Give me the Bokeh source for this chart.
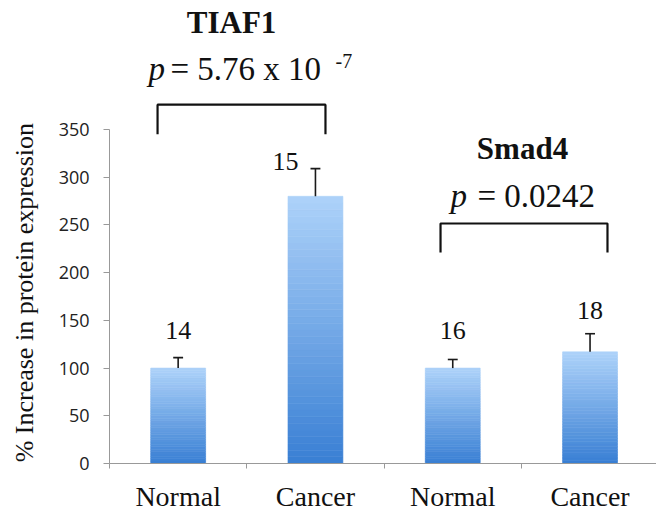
import math
from bokeh.plotting import figure
from bokeh.models import Range1d, FixedTicker
from bokeh.core.properties import value
from bokeh.embed import file_html
from bokeh.resources import INLINE

# ---- data ----
genes = ["TIAF1", "Smad4"]
conditions = ["Normal", "Cancer", "Normal", "Cancer"]
means = [100, 280, 100, 117]
err_up = [11, 29, 9, 19]
n_samples = ["14", "15", "16", "18"]
y_ticks = [0, 50, 100, 150, 200, 250, 300, 350]
p_values = ["= 5.76 x 10", "= 0.0242"]
p_exponent = ["-7"]
y_title = "% Increase in protein expression"

centers = [i + 0.5 for i in range(len(means))]
tops_err = [m + e for m, e in zip(means, err_up)]

SERIF = "Liberation Serif"
INK = "#111111"

p = figure(width=656, height=513,
           x_range=Range1d(-0.7939, 3.9840), y_range=Range1d(-52.4, 485.2),
           output_backend="svg", toolbar_location=None,
           min_border_left=0, min_border_right=0, min_border_top=0, min_border_bottom=0)
p.outline_line_color = None
p.xgrid.grid_line_color = None
p.ygrid.grid_line_color = None
p.background_fill_color = "white"
p.border_fill_color = "white"

# ---- gradient bars (slices of each bar) ----
N = 40
top_rgb = (172, 209, 249)
bot_rgb = (58, 128, 212)
xs, bots, tps, cols = [], [], [], []
for c, v in zip(centers, means):
    for j in range(N):
        f = j / (N - 1)
        rgb = tuple(int(round(b + (t - b) * f)) for b, t in zip(bot_rgb, top_rgb))
        col = "#%02x%02x%02x" % rgb
        xs.append(c)
        bots.append(v * j / N)
        tps.append(v * (j + 1) / N)
        cols.append(col)
p.vbar(x=xs, width=0.4, bottom=bots, top=tps, fill_color=cols, line_color=cols, line_width=0.6)

# ---- error bars ----
p.segment(x0=centers, y0=means, x1=centers, y1=tops_err, line_color="#1a1a1a", line_width=1.6)
cap = 0.036
p.segment(x0=[c - cap for c in centers], y0=tops_err, x1=[c + cap for c in centers], y1=tops_err,
          line_color="#1a1a1a", line_width=1.6)

# ---- sample sizes ----
label_dx = [0, -0.218, 0, 0]
label_dy = [28, 8, 30, 24]
p.text(x=[c + d for c, d in zip(centers, label_dx)], y=[t + d for t, d in zip(tops_err, label_dy)],
       text=n_samples, text_font=value(SERIF), text_font_size="26px", text_align="center",
       text_baseline="alphabetic", text_color=INK)

# ---- significance brackets ----
p.multi_line(xs=[[0.350, 0.350, 1.573, 1.573], [2.411, 2.411, 3.627, 3.627]],
             ys=[[345, 376, 376, 345], [221, 251.5, 251.5, 221]],
             line_color=INK, line_width=2.2)

# ---- gene titles ----
p.text(x=[0.889, 3.008], y=[462, 330], text=genes, text_font=value(SERIF),
       text_font_style="bold", text_font_size="31px", text_align="center",
       text_baseline="alphabetic", text_color=INK)

# ---- p values ----
p.text(x=[0.284, 2.484], y=[413.5, 280.5], text=["p", "p"], text_font=value(SERIF),
       text_font_style="italic", text_font_size="33px", text_align="left",
       text_baseline="alphabetic", text_color=INK)
p.text(x=[0.444, 2.680], y=[413.5, 280.5], text=p_values, text_font=value(SERIF),
       text_font_size="33px", text_align="left", text_baseline="alphabetic", text_color=INK)
p.text(x=[1.646], y=[422], text=p_exponent, text_font=value(SERIF),
       text_font_size="20px", text_align="left", text_baseline="alphabetic", text_color=INK)

# ---- y axis title ----
p.text(x=[-0.619], y=[179], text=[y_title], angle=math.pi / 2, text_font=value(SERIF),
       text_font_size="26px", text_align="center", text_baseline="middle", text_color=INK)

# ---- axes ----
ya = p.yaxis[0]
ya.fixed_location = 0
ya.ticker = FixedTicker(ticks=y_ticks)
ya.bounds = (0, 350)
ya.axis_line_color = "#999999"
ya.major_tick_line_color = "#999999"
ya.major_tick_out = 6
ya.major_tick_in = 0
ya.minor_tick_line_color = None
ya.major_label_text_font = "Open Sans"
ya.major_label_text_font_size = "18px"
ya.major_label_text_color = "#222222"
ya.major_label_standoff = 14

xa = p.xaxis[0]
xa.fixed_location = 0
xa.bounds = (0, 3.984)
xa.ticker = FixedTicker(ticks=centers, minor_ticks=[0, 1, 2, 3, 4])
xa.major_label_overrides = {c: lab for c, lab in zip(centers, conditions)}
xa.axis_line_color = "#999999"
xa.major_tick_line_color = None
xa.minor_tick_line_color = "#999999"
xa.minor_tick_out = 5
xa.minor_tick_in = 0
xa.major_label_text_font = SERIF
xa.major_label_text_font_size = "28px"
xa.major_label_text_color = INK
xa.major_label_standoff = 12

open("out.html", "w").write(file_html(p, INLINE))
